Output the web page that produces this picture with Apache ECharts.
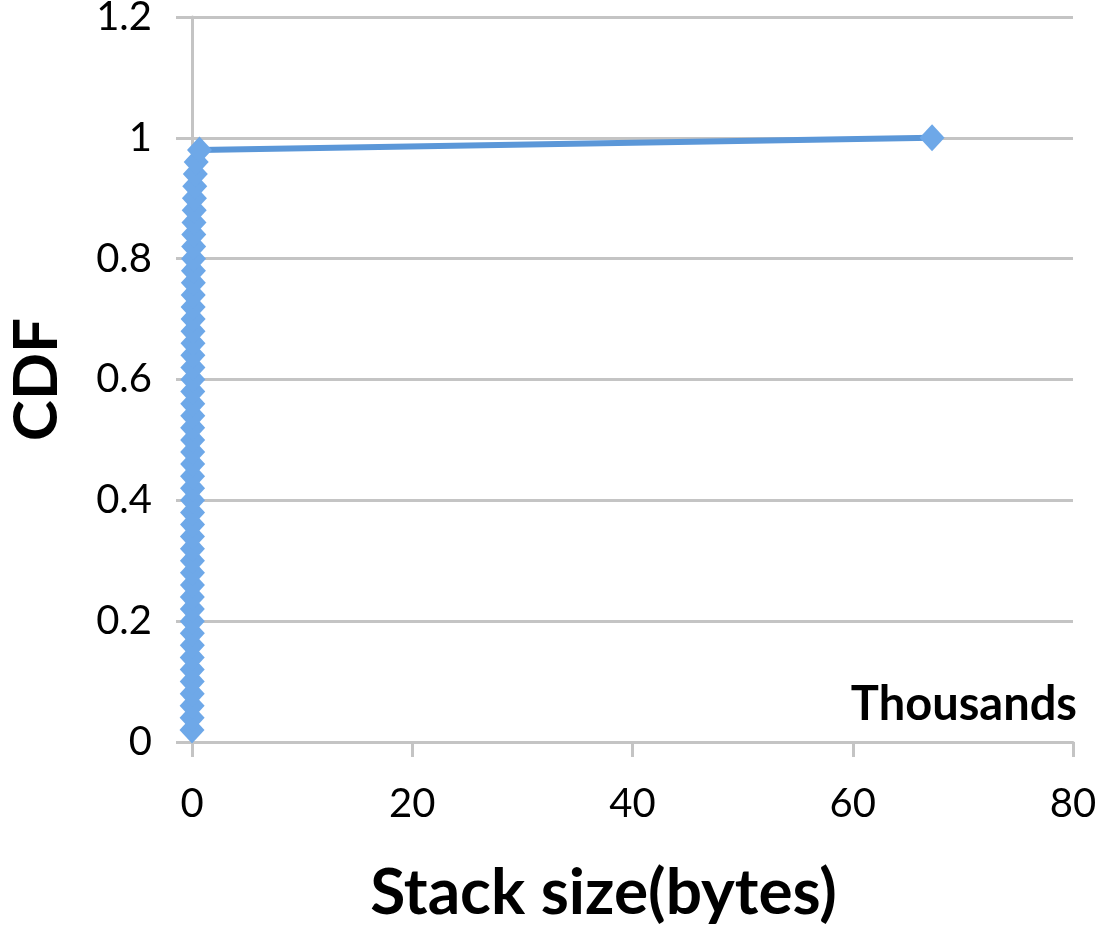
<!DOCTYPE html>
<html>
<head>
<meta charset="utf-8">
<script src="https://cdn.jsdelivr.net/npm/echarts@6/dist/echarts.min.js"></script>
<style>
  html, body { margin: 0; padding: 0; background: #fff; }
  #chart { width: 1104px; height: 931px; }
</style>
</head>
<body>
<div id="chart"></div>
<script>
// stack size in thousands of bytes
var stackSize = [
  0.00, 0.01, 0.01, 0.02, 0.02,
  0.02, 0.02, 0.03, 0.03, 0.03, 0.03, 0.03, 0.04, 0.04, 0.04,
  0.04, 0.04, 0.05, 0.05, 0.05, 0.05, 0.05, 0.06, 0.06, 0.06,
  0.06, 0.07, 0.07, 0.07, 0.08, 0.08, 0.08, 0.09, 0.09, 0.10,
  0.10, 0.11, 0.12, 0.13, 0.14, 0.15, 0.16, 0.18, 0.20, 0.22,
  0.25, 0.30, 0.38, 0.68,
  67.2
];
var cdf = [
  0.02, 0.04, 0.06, 0.08, 0.10,
  0.12, 0.14, 0.16, 0.18, 0.20, 0.22, 0.24, 0.26, 0.28, 0.30,
  0.32, 0.34, 0.36, 0.38, 0.40, 0.42, 0.44, 0.46, 0.48, 0.50,
  0.52, 0.54, 0.56, 0.58, 0.60, 0.62, 0.64, 0.66, 0.68, 0.70,
  0.72, 0.74, 0.76, 0.78, 0.80, 0.82, 0.84, 0.86, 0.88, 0.90,
  0.92, 0.94, 0.96, 0.98,
  1.00
];

var chart = echarts.init(document.getElementById('chart'));
var points = [];
for (var i = 0; i < cdf.length; i++) {
  points.push([stackSize[i], cdf[i]]);
}

var axisGray = '#c4c4c4';
var font = 'Lato, "Open Sans", sans-serif';

chart.setOption({
  backgroundColor: '#ffffff',
  animation: false,
  grid: { left: 192, right: 31, top: 17, bottom: 189, outerBoundsMode: 'none', containLabel: false },
  xAxis: {
    type: 'value',
    min: 0, max: 80, interval: 20,
    name: 'Stack size(bytes)',
    nameLocation: 'middle',
    nameGap: 119,
    nameTextStyle: { fontFamily: font, fontWeight: 'bold', fontSize: 64, color: '#000', padding: [0, 58, 0, 0] },
    axisLine: { show: true, lineStyle: { color: axisGray, width: 3 } },
    axisTick: { show: true, length: 15, lineStyle: { color: axisGray, width: 3 } },
    axisLabel: { fontFamily: font, fontSize: 40, color: '#000', margin: 42 },
    splitLine: { show: false }
  },
  yAxis: {
    type: 'value',
    min: 0, max: 1.2, interval: 0.2,
    name: 'CDF',
    nameLocation: 'middle',
    nameRotate: 90,
    nameGap: 124,
    nameTextStyle: { fontFamily: font, fontWeight: 'bold', fontSize: 62, color: '#000' },
    axisLine: { show: true, lineStyle: { color: axisGray, width: 3 } },
    axisTick: { show: true, length: 16, lineStyle: { color: axisGray, width: 3 } },
    axisLabel: {
      fontFamily: font, fontSize: 40, color: '#000', margin: 40,
      formatter: function (v) { return String(Math.round(v * 10) / 10); }
    },
    splitLine: { show: true, lineStyle: { color: axisGray, width: 3 } }
  },
  graphic: [{
    type: 'text',
    right: 27,
    top: 681,
    style: { text: 'Thousands', fontFamily: font, fontWeight: 'bold', fontSize: 47, fill: '#000' }
  }],
  series: [{
    type: 'line',
    data: points,
    symbol: 'diamond',
    symbolSize: [25, 27],
    showAllSymbol: true,
    lineStyle: { color: '#5b97d8', width: 6 },
    itemStyle: { color: '#6ea8e8', borderWidth: 0 }
  }]
});
</script>
</body>
</html>
